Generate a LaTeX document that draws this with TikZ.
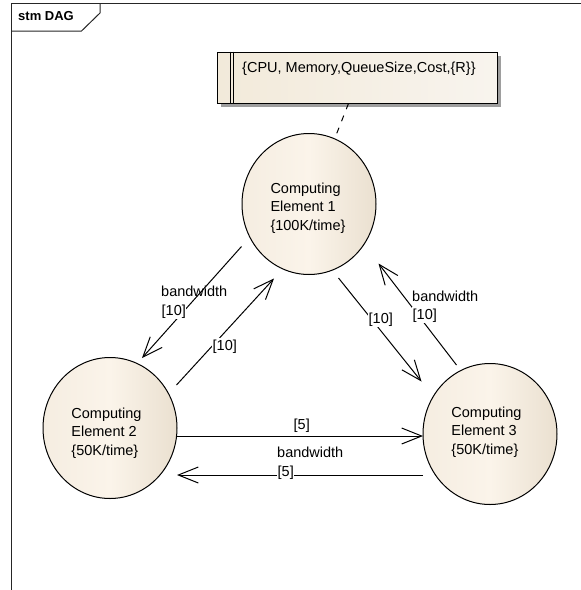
\documentclass[tikz,border=0pt]{standalone}
\usepackage{fontspec}
\setmainfont{Liberation Sans}
\usetikzlibrary{shapes.geometric,arrows.meta,calc}

\definecolor{stateL}{RGB}{245,237,225}
\definecolor{stateM}{RGB}{251,244,234}
\definecolor{stateR}{RGB}{234,224,208}
\definecolor{noteL}{RGB}{242,234,218}
\definecolor{noteR}{RGB}{248,244,238}

\tikzset{
  state/.style={ellipse, draw=black, line width=1pt, minimum width=134pt, minimum height=141pt,
    inner sep=0pt, shading=axis, shading angle=90,
    left color=stateL, right color=stateR, middle color=stateM},
  statetext/.style={align=left, inner sep=0pt, font=\fontsize{14.5}{18.5}\selectfont},
  lbl/.style={anchor=base west, inner sep=0pt, font=\fontsize{14.5}{18}\selectfont},
  onlbl/.style={lbl, fill=white, inner xsep=0.5pt, inner ysep=1pt},
  flow/.style={line width=1pt, -{Straight Barb[length=20pt,width=16pt,line width=1pt]}},
}

\begin{document}
\begin{tikzpicture}[x=1pt,y=-1pt]
\useasboundingbox (0,0) rectangle (581,590);

% diagram frame with its name tab
\draw[line width=1pt, black!85] (581,3) -- (11,3) -- (11,590);
\draw[line width=1pt, black!85] (11,31) -- (81.5,31) -- (100,13) -- (100,3);
\node[anchor=base west, inner sep=0pt, font=\bfseries\fontsize{13}{15}\selectfont] (title) at (18,20) {stm DAG};

% note with the resource tuple
\fill[black!38] (221,56) rectangle (501,107);
\node[draw=black, line width=1pt, shading=axis, shading angle=90, left color=noteL, right color=noteR,
  minimum width=280pt, minimum height=51pt, inner sep=0pt] (note) at (357,77.5) {};
\draw[line width=1pt] ($(note.north west)+(14,0)$) -- ($(note.south west)+(14,0)$);
\draw[line width=1pt] ($(note.north west)+(17,0)$) -- ($(note.south west)+(17,0)$);
\node[lbl] (notetext) at (242,72) {\{CPU, Memory,QueueSize,Cost,\{R\}\}};

% computing elements
\node[state] (ce1) at (309,204) {};
\node[state] (ce2) at (110,428) {};
\node[state] (ce3) at (490,434) {};
\node[statetext] (t1) at (308,208) {Computing\\Element 1\\\{100K/time\}};
\node[statetext] (t2) at (106.5,433) {Computing\\Element 2\\\{50K/time\}};
\node[statetext] (t3) at (486.5,432) {Computing\\Element 3\\\{50K/time\}};

% note attachment
\coordinate (noteanchor) at ($(note.south west)+(132,0)$);
\draw[line width=1pt, dash pattern=on 6pt off 7pt] (noteanchor) -- (ce1);

% connector end points
\coordinate (a1s) at ($(ce1.center)+(-67.5,42.5)$);
\coordinate (a1e) at ($(ce2.center)+(32,-70)$);
\coordinate (a2s) at ($(ce2.center)+(66.5,-43)$);
\coordinate (a2e) at ($(ce1.center)+(-35,74.5)$);
\coordinate (a3s) at ($(ce1.center)+(29.5,74)$);
\coordinate (a3e) at ($(ce3.center)+(-68.5,-52.5)$);
\coordinate (a4s) at ($(ce3.center)+(-33.5,-69)$);
\coordinate (a4e) at ($(ce1.center)+(69.5,59.5)$);
\coordinate (a5s) at ($(ce2.center)+(66.5,8)$);
\coordinate (a5e) at ($(ce3.center)+(-67,2)$);
\coordinate (a6s) at ($(ce3.center)+(-67,41)$);
\coordinate (a6e) at ($(ce2.center)+(67,47)$);

% transitions
\draw[flow] (a1s) -- (a1e);
\draw[flow] (a2s) -- (a2e);
\draw[flow] (a3s) -- (a3e);
\draw[flow] (a4s) -- (a4e);
\draw[flow] (a5s) -- (a5e);
\draw[flow] (a6s) -- (a6e);

% transition labels
\node[lbl] (l1a) at (161,296) {bandwidth};
\node[onlbl] (l1b) at (161,315) {[10]};
\node[onlbl] (l2) at (212,350) {[10]};
\node[onlbl] (l3) at (368,323) {[10]};
\node[lbl] (l4a) at (412,301) {bandwidth};
\node[onlbl] (l4b) at (412,319) {[10]};
\node[onlbl] (l5) at (293,429) {[5]};
\node[lbl] (l6a) at (277,457) {bandwidth};
\node[onlbl] (l6b) at (277,476) {[5]};
\end{tikzpicture}
\end{document}
